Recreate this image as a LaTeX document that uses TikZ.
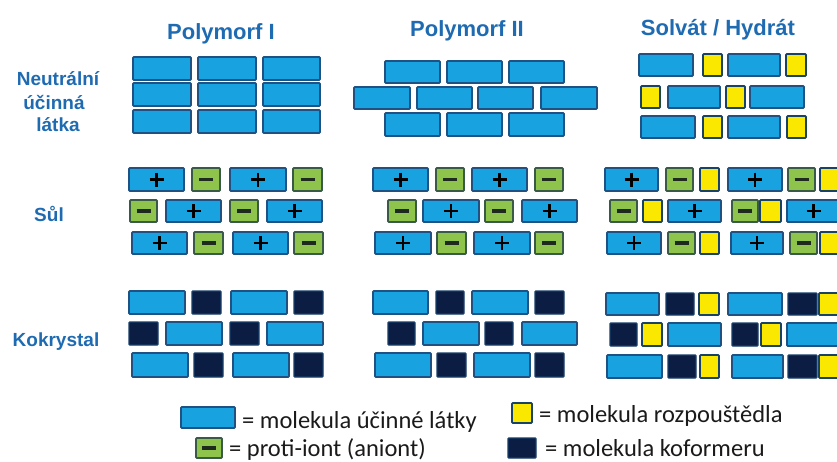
\documentclass[tikz,border=0pt]{standalone}
\usepackage{fontspec}
\newfontfamily\headfont{Liberation Sans}
\newfontfamily\legfont{Carlito}
\definecolor{molblue}{HTML}{18A2E0}
\definecolor{moledge}{HTML}{1F5283}
\definecolor{molgreen}{HTML}{8EC44C}
\definecolor{greenedge}{HTML}{3A5A48}
\definecolor{molyellow}{HTML}{FAE800}
\definecolor{molnavy}{HTML}{0B1D42}
\definecolor{titleblue}{HTML}{1F6BB2}
\definecolor{legtext}{HTML}{1A1A1A}
\definecolor{signdark}{HTML}{1E2A1E}

% x1 x2 y1 y2 (pixel-like units, y downwards)
\newcommand\molB[4]{\draw[blu] (#1,#3) rectangle (#2,#4);}
\newcommand\molP[4]{\draw[blu] (#1,#3) rectangle (#2,#4);
  \draw[plussign] ({(#1+#2)/2},{(#3+#4)/2}) +(-7,0) -- +(7,0) +(0,-7) -- +(0,7);}
\newcommand\molM[4]{\draw[grn] (#1,#3) rectangle (#2,#4);
  \draw[minussign] ({(#1+#2)/2-7},{(#3+#4)/2}) -- ++(14,0);}
\newcommand\molY[4]{\draw[yel] (#1,#3) rectangle (#2,#4);}
\newcommand\molD[4]{\draw[drk] (#1,#3) rectangle (#2,#4);}

\begin{document}
\begin{tikzpicture}[x=1pt,y=-1pt,
  blu/.style={fill=molblue,draw=moledge,line width=1.8pt,rounded corners=0.8pt},
  grn/.style={fill=molgreen,draw=greenedge,line width=1.8pt,rounded corners=0.8pt},
  yel/.style={fill=molyellow,draw=moledge!80!black,line width=1.8pt,rounded corners=0.8pt},
  drk/.style={fill=molnavy,draw=moledge!60!molnavy,line width=1.4pt,rounded corners=0.8pt},
  plussign/.style={draw=black,line width=2.6pt},
  minussign/.style={draw=signdark,line width=3.2pt},
  coltitle/.style={font=\headfont\bfseries\fontsize{22}{26}\selectfont,text=titleblue,anchor=base,inner sep=0pt},
  rowlabel/.style={font=\headfont\bfseries\fontsize{19}{22}\selectfont,text=titleblue,anchor=base,inner sep=0pt},
  legendtext/.style={font=\legfont\fontsize{24.5}{28}\selectfont,text=legtext,anchor=base west,inner sep=0pt}]
\useasboundingbox (0,0) rectangle (837,461);
\clip (0,0) rectangle (837,461);

% column headings
\node[coltitle] (t1) at (221,39) {Polymorf I};
\node[coltitle] (t2) at (467,36) {Polymorf II};
\node[coltitle] (t3) at (718,35) {Solvát / Hydrát};

% row labels
\node[rowlabel] (r1a) at (58,85) {Neutrální};
\node[rowlabel] (r1b) at (54,109) {účinná};
\node[rowlabel] (r1c) at (58,131) {látka};
\node[rowlabel] (r2) at (49,221) {Sůl};
\node[rowlabel] (r3) at (56,346) {Kokrystal};

% ---- neutral drug: polymorph I
\molB{133}{191}{57}{80} \molB{198}{256}{57}{80} \molB{263}{320}{57}{80}
\molB{133}{191}{83}{106} \molB{198}{256}{83}{106} \molB{263}{320}{83}{106}
\molB{133}{191}{110}{133} \molB{198}{256}{110}{133} \molB{263}{320}{110}{133}
% ---- neutral drug: polymorph II
\molB{385}{440}{61}{83} \molB{447}{502}{61}{83} \molB{509}{564}{61}{83}
\molB{354}{410}{87}{109} \molB{417}{472}{87}{109} \molB{478}{533}{87}{109} \molB{541}{597}{87}{109}
\molB{385}{440}{113}{136} \molB{447}{502}{113}{136} \molB{509}{564}{113}{136}
% ---- neutral drug: solvate
\molB{639}{693}{54}{76} \molY{703}{722}{54}{76} \molB{728}{780}{54}{76} \molY{786}{806}{54}{76}
\molY{641}{660}{86}{108} \molB{668}{720}{86}{108} \molY{726}{745}{86}{108} \molB{750}{804}{86}{108}
\molB{641}{695}{116}{138} \molY{703}{722}{116}{138} \molB{728}{780}{116}{138} \molY{787}{806}{116}{138}

% ---- salt: polymorph I
\molP{129}{184}{168}{191} \molM{192}{220}{168}{191} \molP{230}{286}{168}{191} \molM{293}{322}{168}{191}
\molM{130}{157}{200}{222} \molP{166}{221}{200}{222} \molM{230}{258}{200}{222} \molP{267}{322}{200}{222}
\molP{132}{187}{232}{254} \molM{194}{223}{232}{254} \molP{233}{288}{232}{254} \molM{294}{323}{232}{254}
% ---- salt: polymorph II
\molP{373}{428}{168}{191} \molM{436}{464}{168}{191} \molP{472}{527}{168}{191} \molM{535}{563}{168}{191}
\molM{388}{416}{200}{222} \molP{423}{479}{200}{222} \molM{485}{513}{200}{222} \molP{522}{577}{200}{222}
\molP{375}{431}{232}{254} \molM{437}{466}{232}{254} \molP{474}{530}{232}{254} \molM{535}{563}{232}{254}
% ---- salt: solvate
\molP{605}{658}{168}{191} \molM{666}{693}{168}{191} \molY{700}{719}{168}{191}
\molP{728}{782}{168}{191} \molM{788}{815}{168}{191} \molY{820}{840}{168}{191}
\molM{610}{637}{200}{222} \molY{643}{662}{200}{222} \molP{668}{721}{200}{222}
\molM{732}{758}{200}{222} \molY{760}{781}{200}{222} \molP{787}{840}{200}{222}
\molP{607}{661}{232}{254} \molM{668}{695}{232}{254} \molY{700}{719}{232}{254}
\molP{731}{783}{232}{254} \molM{790}{817}{232}{254} \molY{820}{840}{232}{254}

% ---- cocrystal: polymorph I
\molB{129}{185}{291}{314} \molD{192}{221}{291}{314} \molB{231}{287}{291}{314} \molD{294}{323}{291}{314}
\molD{129}{158}{322}{345} \molB{166}{222}{322}{345} \molD{230}{259}{322}{345} \molB{267}{323}{322}{345}
\molB{132}{188}{353}{377} \molD{194}{223}{353}{377} \molB{233}{289}{353}{377} \molD{294}{323}{353}{377}
% ---- cocrystal: polymorph II
\molB{373}{428}{291}{314} \molD{436}{464}{291}{314} \molB{472}{528}{291}{314} \molD{535}{564}{291}{314}
\molD{388}{415}{322}{345} \molB{423}{479}{322}{345} \molD{485}{513}{322}{345} \molB{522}{577}{322}{345}
\molB{375}{431}{353}{377} \molD{437}{466}{353}{377} \molB{474}{530}{353}{377} \molD{535}{564}{353}{377}
% ---- cocrystal: solvate
\molB{606}{659}{293}{315} \molD{666}{694}{293}{315} \molY{699}{719}{293}{315}
\molB{728}{782}{293}{315} \molD{788}{817}{293}{315} \molY{819}{840}{293}{315}
\molD{610}{637}{323}{346} \molY{642}{662}{323}{346} \molB{668}{721}{323}{346}
\molD{732}{758}{323}{346} \molY{761}{781}{323}{346} \molB{787}{840}{323}{346}
\molB{607}{662}{355}{378} \molD{668}{696}{355}{378} \molY{700}{719}{355}{378}
\molB{732}{783}{355}{378} \molD{788}{817}{355}{378} \molY{819}{840}{355}{378}

% ---- legend
\molB{181}{235}{407}{428}
\node[legendtext] (l1) at (242,428) {= molekula účinné látky};
\molM{196}{222}{438}{458}
\node[legendtext] (l2) at (229,456) {= proti-iont (aniont)};
\molY{512}{532}{403}{423}
\node[legendtext] (l3) at (539,422) {= molekula rozpouštědla};
\molD{508}{536}{438}{458}
\node[legendtext] (l4) at (545,456) {= molekula koformeru};
\end{tikzpicture}
\end{document}
